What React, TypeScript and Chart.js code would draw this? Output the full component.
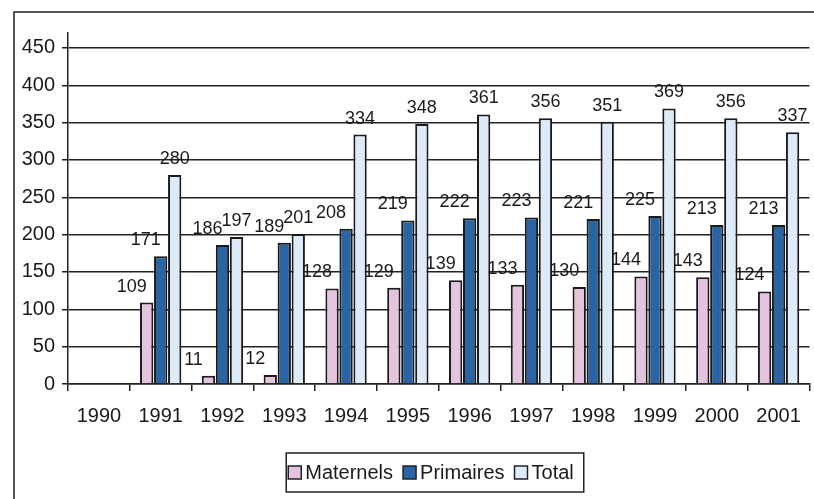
import React, { useEffect, useRef } from "react";
import { Chart, registerables } from "chart.js";

Chart.register(...registerables);

const years = ["1990", "1991", "1992", "1993", "1994", "1995", "1996", "1997", "1998", "1999", "2000", "2001"];
const maternels = [null, 109, 11, 12, 128, 129, 139, 133, 130, 144, 143, 124];
const primaires = [null, 171, 186, 189, 208, 219, 222, 223, 221, 225, 213, 213];
const total = [null, 280, 197, 201, 334, 348, 361, 356, 351, 369, 356, 337];
const seriesNames = ["Maternels", "Primaires", "Total"];
const seriesColors = ["#e4c3df", "#2a64a3", "#dcebf7"];
const yTickValues = [0, 50, 100, 150, 200, 250, 300, 350, 400, 450];

const FONT = "'Liberation Sans', Arial, sans-serif";
const INK = "#1a1a1a";

const framePlugin = {
  id: "frame",
  beforeDraw(chart: any) {
    const ctx = chart.ctx;
    ctx.save();
    ctx.fillStyle = "#ffffff";
    ctx.fillRect(0, 0, chart.width, chart.height);
    ctx.strokeStyle = "#222";
    ctx.lineWidth = 1.5;
    ctx.beginPath();
    ctx.moveTo(14, chart.height + 2);
    ctx.lineTo(14, 12);
    ctx.lineTo(chart.width + 2, 12);
    ctx.stroke();
    ctx.restore();
  },
};

const valueLabelPlugin = {
  id: "valueLabels",
  afterDatasetsDraw(chart: any) {
    const ctx = chart.ctx;
    ctx.save();
    ctx.font = `18px ${FONT}`;
    ctx.fillStyle = INK;
    ctx.textAlign = "center";
    ctx.textBaseline = "alphabetic";
    chart.data.datasets.forEach((ds: any, di: number) => {
      const meta = chart.getDatasetMeta(di);
      meta.data.forEach((el: any, i: number) => {
        const v = ds.data[i];
        if (v == null) return;
        const dx = di === 2 ? 0 : -15;
        ctx.fillText(String(v), el.x + dx, el.y - 11);
      });
    });
    ctx.restore();
  },
};

const boxLegendPlugin = {
  id: "boxLegend",
  afterDraw(chart: any) {
    const ctx = chart.ctx;
    ctx.save();
    ctx.font = `20px ${FONT}`;
    const mk = 13;
    const gapText = 4;
    const gapItem = 10;
    const items = chart.data.datasets.map((ds: any) => ({
      label: ds.label,
      color: ds.backgroundColor,
      w: ctx.measureText(ds.label).width,
    }));
    let contentW = 0;
    items.forEach((it: any, i: number) => {
      contentW += mk + gapText + it.w + (i < items.length - 1 ? gapItem : 0);
    });
    const padL = 2;
    const padR = 10;
    const boxW = contentW + padL + padR;
    const cx = 435;
    const boxL = cx - boxW / 2;
    const boxT = 453;
    const boxH = 39;
    const cy = boxT + boxH / 2;
    ctx.strokeStyle = "#222";
    ctx.lineWidth = 1.5;
    ctx.strokeRect(boxL, boxT, boxW, boxH);
    let x = boxL + padL;
    ctx.textBaseline = "middle";
    ctx.textAlign = "left";
    items.forEach((it: any) => {
      ctx.fillStyle = it.color;
      ctx.fillRect(x, cy - mk / 2, mk, mk);
      ctx.strokeStyle = "#222";
      ctx.lineWidth = 1.5;
      ctx.strokeRect(x, cy - mk / 2, mk, mk);
      x += mk + gapText;
      ctx.fillStyle = INK;
      ctx.fillText(it.label, x, cy + 1);
      x += it.w + gapItem;
    });
    ctx.restore();
  },
};

export default function App() {
  const canvasRef = useRef<HTMLCanvasElement | null>(null);

  useEffect(() => {
    if (!canvasRef.current) return;
    const seriesData = [maternels, primaires, total];
    const chart = new Chart(canvasRef.current, {
      type: "bar",
      data: {
        labels: years,
        datasets: seriesNames.map((name, i) => ({
          label: name,
          data: seriesData[i] as any,
          backgroundColor: seriesColors[i],
          borderColor: "#1a1a1a",
          borderWidth: 2,
          categoryPercentage: 0.68,
          barPercentage: 0.95,
        })),
      },
      options: {
        responsive: false,
        animation: false,
        devicePixelRatio: 1,
        layout: { padding: { left: 14, right: 4, top: 33, bottom: 0 } },
        plugins: {
          legend: { display: false },
          tooltip: { enabled: false },
        },
        scales: {
          x: {
            grid: {
              display: true,
              drawOnChartArea: false,
              drawTicks: true,
              tickLength: 7,
              color: "#222",
              lineWidth: 1.5,
              offset: true,
            },
            border: { display: true, color: "#222", width: 1.5 },
            ticks: {
              font: { size: 20, family: FONT },
              color: INK,
              padding: 13,
              maxRotation: 0,
              autoSkip: false,
            },
            afterFit: (s: any) => {
              s.height = 115;
            },
          },
          y: {
            min: 0,
            max: 470,
            ticks: {
              font: { size: 20, family: FONT },
              color: INK,
              padding: 7,
            },
            afterBuildTicks: (s: any) => {
              s.ticks = yTickValues.map((v) => ({ value: v }));
            },
            grid: {
              color: "#222",
              lineWidth: 1.5,
              tickLength: 6,
              drawTicks: true,
            },
            border: { display: true, color: "#222", width: 1.5 },
            afterFit: (s: any) => {
              s.width = 54;
            },
          },
        },
      },
      plugins: [framePlugin, valueLabelPlugin, boxLegendPlugin],
    });
    return () => chart.destroy();
  }, []);

  return (
    <div style={{ position: "fixed", left: 0, top: 0, width: 814, height: 499, background: "#fff" }}>
      <canvas ref={canvasRef} width={814} height={499} style={{ display: "block" }} />
    </div>
  );
}
